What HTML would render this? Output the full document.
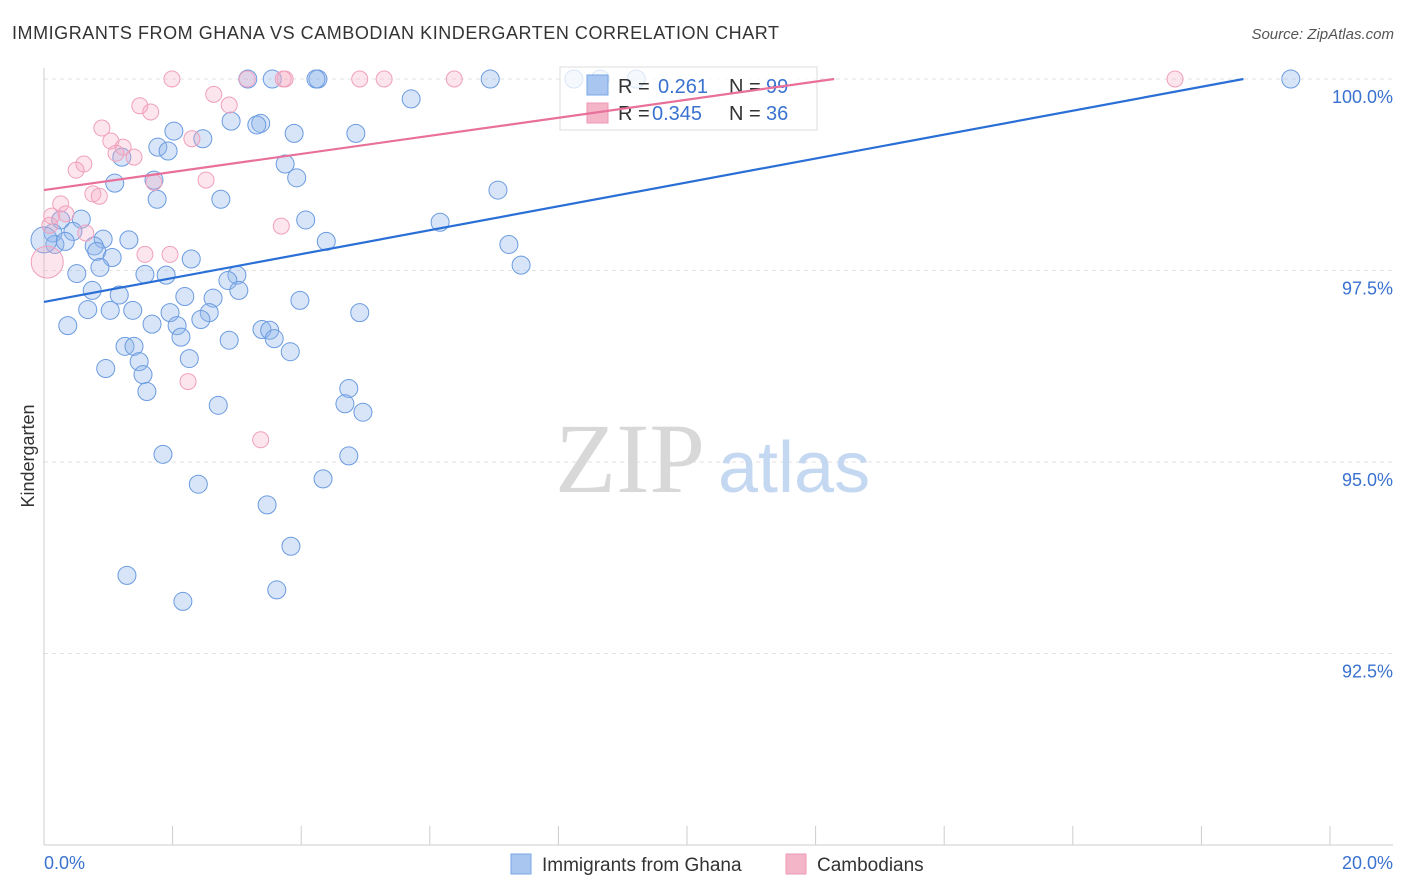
<!DOCTYPE html>
<html><head><meta charset="utf-8"><style>
body{margin:0;background:#fff;font-family:"Liberation Sans",sans-serif;}
svg{display:block}
</style></head><body>
<svg id="chart" width="1406" height="892">
<text x="12" y="39" font-size="18" fill="#333" textLength="767">IMMIGRANTS FROM GHANA VS CAMBODIAN KINDERGARTEN CORRELATION CHART</text>
<text x="1394" y="39" font-size="15" fill="#555" text-anchor="end" font-style="italic">Source: ZipAtlas.com</text>
<text x="34" y="456" font-size="18" fill="#333" text-anchor="middle" transform="rotate(-90 34 456)">Kindergarten</text>
<g id="grid"></g>
<text x="555" y="492" font-size="100" fill="#d8d8d8" font-family="Liberation Serif,serif">ZIP</text>
<text x="718" y="492" font-size="72" fill="#c5d8f2">atlas</text>
<g id="pts"></g>
<g>
<rect x="560" y="67" width="257" height="63" fill="#fff" fill-opacity="0.75" stroke="#ddd"/>
<rect x="587" y="75" width="21" height="20" fill="#a8c6f0" stroke="#7aa6e6"/>
<text x="618" y="93" font-size="20" fill="#333">R = </text><text x="658" y="93" font-size="20" fill="#3a72d0">0.261</text>
<text x="729" y="93" font-size="20" fill="#333">N = </text><text x="766" y="93" font-size="20" fill="#3a72d0">99</text>
<rect x="587" y="103" width="21" height="20" fill="#f5b5c8" stroke="#ee98b4"/>
<text x="618" y="120" font-size="20" fill="#333">R = </text><text x="652" y="120" font-size="20" fill="#3a72d0">0.345</text>
<text x="729" y="120" font-size="20" fill="#333">N = </text><text x="766" y="120" font-size="20" fill="#3a72d0">36</text>
</g>
<g id="lines"></g>
<g>
<rect x="511" y="854" width="20" height="20" fill="#a8c6f0" stroke="#7aa6e6"/>
<text x="542" y="871" font-size="19" fill="#333">Immigrants from Ghana</text>
<rect x="786" y="854" width="20" height="20" fill="#f5b5c8" stroke="#ee98b4"/>
<text x="817" y="871" font-size="19" fill="#333">Cambodians</text>
</g>
</svg>
<script>
const xTicks=[0,20];
const yTicks=[100,97.5,95,92.5];
const blueX=[3.17,3.55,4.26,4.23,6.94,8.24,8.65,9.21,19.39,5.71,2.91,3.37,3.31,2.02,3.89,4.85,2.47,1.77,1.93,1.21,3.75,1.10,3.93,1.71,1.76,2.75,7.06,0.26,0.58,4.07,6.16,0.14,0.45,0.92,1.32,4.39,7.23,0.17,0.33,0.78,0.82,1.06,2.29,0.87,7.42,0.51,1.57,1.90,3.00,2.86,3.03,0.75,1.17,2.19,2.63,3.98,0.68,1.03,1.38,1.96,2.57,2.44,4.91,0.37,1.68,2.07,3.39,3.51,2.13,3.58,2.88,1.26,1.40,3.83,2.26,1.48,0.96,1.54,4.74,1.60,4.68,4.96,2.71,1.85,4.74,4.34,2.40,3.47,3.84,1.29,3.62,2.16,0];
const blueY=[100,100,100,100,100,100,100,100,100,99.74,99.45,99.42,99.40,99.32,99.29,99.29,99.22,99.11,99.06,98.98,98.89,98.64,98.71,98.68,98.43,98.43,98.55,98.16,98.17,98.16,98.13,97.99,98.01,97.91,97.90,97.88,97.84,97.84,97.88,97.82,97.75,97.67,97.65,97.54,97.57,97.46,97.45,97.44,97.44,97.37,97.24,97.24,97.18,97.16,97.14,97.11,96.99,96.98,96.98,96.95,96.95,96.86,96.95,96.78,96.80,96.78,96.73,96.72,96.63,96.61,96.59,96.51,96.51,96.44,96.35,96.31,96.22,96.14,95.96,95.92,95.76,95.65,95.74,95.10,95.08,94.78,94.71,94.44,93.90,93.52,93.33,93.18,97.90];
const pinkX=[1.99,3.16,3.75,3.72,4.91,5.29,6.38,17.59,2.64,1.49,2.88,1.66,0.90,1.04,1.23,2.30,1.12,1.40,0.62,0.50,2.52,1.71,0.76,0.86,0.26,0.34,0.12,3.69,0.65,1.57,1.96,2.24,3.37,0.05,0.09];
const pinkY=[100,100,100,100,100,100,100,100,99.80,99.65,99.66,99.57,99.36,99.19,99.11,99.22,99.03,98.98,98.89,98.81,98.68,98.65,98.50,98.47,98.37,98.24,98.21,98.08,97.99,97.71,97.71,96.05,95.29,97.61,98.09];
const blueLine=[97.09,0.156];
const pinkLine=[98.55,0.118];
const X=v=>44+(v/20)*1286;
const Y=v=>79+(100-v)/2.5*191.5;
const NS="http://www.w3.org/2000/svg";
function mk(tag,at,parent){const e=document.createElementNS(NS,tag);for(const k in at)e.setAttribute(k,at[k]);parent.appendChild(e);return e;}
const grid=document.getElementById('grid');
yTicks.forEach(t=>{
 const l=mk('line',{x1:44,x2:1393,y1:Y(t),y2:Y(t),stroke:'#e2e2e2','stroke-dasharray':'4 4'},grid);
 
 
 const tx=mk('text',{x:1393,y:Y(t)+24,'font-size':18,fill:'#3a72d0','text-anchor':'end'},grid);
 tx.textContent=t.toFixed(1)+'%';
 
 
});
const ax=mk('line',{x1:44,x2:44,y1:68,y2:845,stroke:'#ccc'},grid);


const bx=mk('line',{x1:44,x2:1393,y1:845,y2:845,stroke:'#ccc'},grid);


for(let i=0;i<=10;i++){
 const t=mk('line',{x1:X(i*2),x2:X(i*2),y1:826,y2:845,stroke:'#ccc'},grid);
 
 
}
xTicks.forEach((t,i)=>{
 const tx=mk('text',{x:i?1393:44,y:869,'font-size':18,fill:'#3a72d0','text-anchor':i?'end':'start'},grid);
 tx.textContent=t.toFixed(1)+'%';
 
 
});
const pts=document.getElementById('pts');
blueX.forEach((v,i)=>{
 const big=(v===0);
 const c=mk('circle',{cx:X(v),cy:Y(blueY[i]),r:big?13:9,fill:'#8fb4ec','fill-opacity':0.35,stroke:'#6b9be0','stroke-width':1},pts);
 
 
});
pinkX.forEach((v,i)=>{
 const big=(v<0.06);
 const c=mk('circle',{cx:X(v),cy:Y(pinkY[i]),r:big?16:8,fill:'#f4a8c0','fill-opacity':0.3,stroke:'#f0a0bd','stroke-width':1},pts);
 
 
});
const lines=document.getElementById('lines');
function trend(p,col,name){
 const xe=Math.min(20,(100-p[0])/p[1]);
 const l=mk('line',{x1:X(0),y1:Y(p[0]),x2:X(xe),y2:Y(p[0]+p[1]*xe),stroke:col,'stroke-width':2.2},lines);
 
 
}
trend(blueLine,'#2a6fd6','ghana-trend-line');
trend(pinkLine,'#e8709a','cambodian-trend-line');
</script>
</body></html>
